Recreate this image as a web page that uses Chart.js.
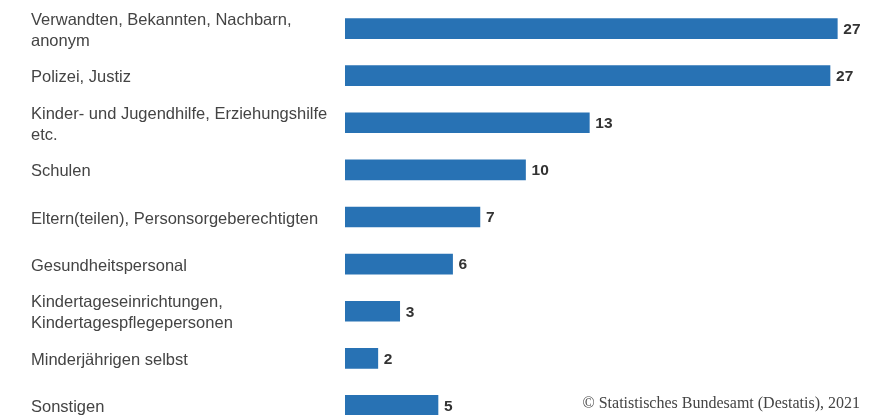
<!DOCTYPE html>
<html>
<head>
<meta charset="utf-8">
<script src="https://cdn.jsdelivr.net/npm/chart.js@4"></script>
<style>
  html, body { margin: 0; padding: 0; background: #fff; overflow: hidden; }
  #wrap { position: relative; width: 894px; height: 415px; overflow: hidden; }
  #source {
    position: absolute; right: 34px; top: 394px;
    font-family: "Liberation Serif", "DejaVu Serif", serif; font-size: 16px; color: #444;
    white-space: nowrap;
  }
</style>
</head>
<body>
<div id="wrap">
  <canvas id="chart" width="894" height="430"></canvas>
  <div id="source">© Statistisches Bundesamt (Destatis), 2021</div>
</div>
<script>
const categories = [
    ["Verwandten, Bekannten, Nachbarn,", "anonym"],
    "Polizei, Justiz",
    ["Kinder- und Jugendhilfe, Erziehungshilfe", "etc."],
    "Schulen",
    "Eltern(teilen), Personsorgeberechtigten",
    "Gesundheitspersonal",
    ["Kindertageseinrichtungen,", "Kindertagespflegepersonen"],
    "Minderjährigen selbst",
    "Sonstigen"
];
const values = [27.0, 26.6, 13.4, 9.9, 7.4, 5.9, 3.0, 1.8, 5.1];
const valueLabels = ["27", "27", "13", "10", "7", "6", "3", "2", "5"];

// value labels at the end of each bar
const endLabels = {
    id: "endLabels",
    afterDatasetsDraw(chart) {
        const c = chart.ctx;
        const meta = chart.getDatasetMeta(0);
        c.save();
        c.font = "bold 15.5px 'Liberation Sans', Arial, sans-serif";
        c.fillStyle = "#333";
        c.textAlign = "left";
        c.textBaseline = "middle";
        meta.data.forEach((bar, i) => {
            c.fillText(valueLabels[i], bar.x + 6, bar.y + 1);
        });
        c.restore();
    }
};

new Chart(document.getElementById("chart"), {
    type: "bar",
    data: {
        labels: categories,
        datasets: [{
            data: values,
            backgroundColor: "#2872b4",
            barThickness: 20
        }]
    },
    options: {
        indexAxis: "y",
        responsive: false,
        animation: false,
        layout: { padding: { left: 31, right: 2, top: 5, bottom: 1 } },
        plugins: {
            legend: { display: false },
            tooltip: { enabled: false }
        },
        scales: {
            x: {
                min: 0,
                max: 30,
                display: false
            },
            y: {
                grid: { display: false },
                border: { display: false },
                afterFit(scale) {
                    scale.width = 314;
                    scale.paddingTop = 0;
                    scale.paddingBottom = 0;
                },
                ticks: {
                    crossAlign: "far",
                    labelOffset: 2,
                    color: "#444",
                    font: { family: "'Liberation Sans', Arial, sans-serif", size: 16.5, lineHeight: 1.27 }
                }
            }
        }
    },
    plugins: [endLabels]
});
</script>
</body>
</html>
